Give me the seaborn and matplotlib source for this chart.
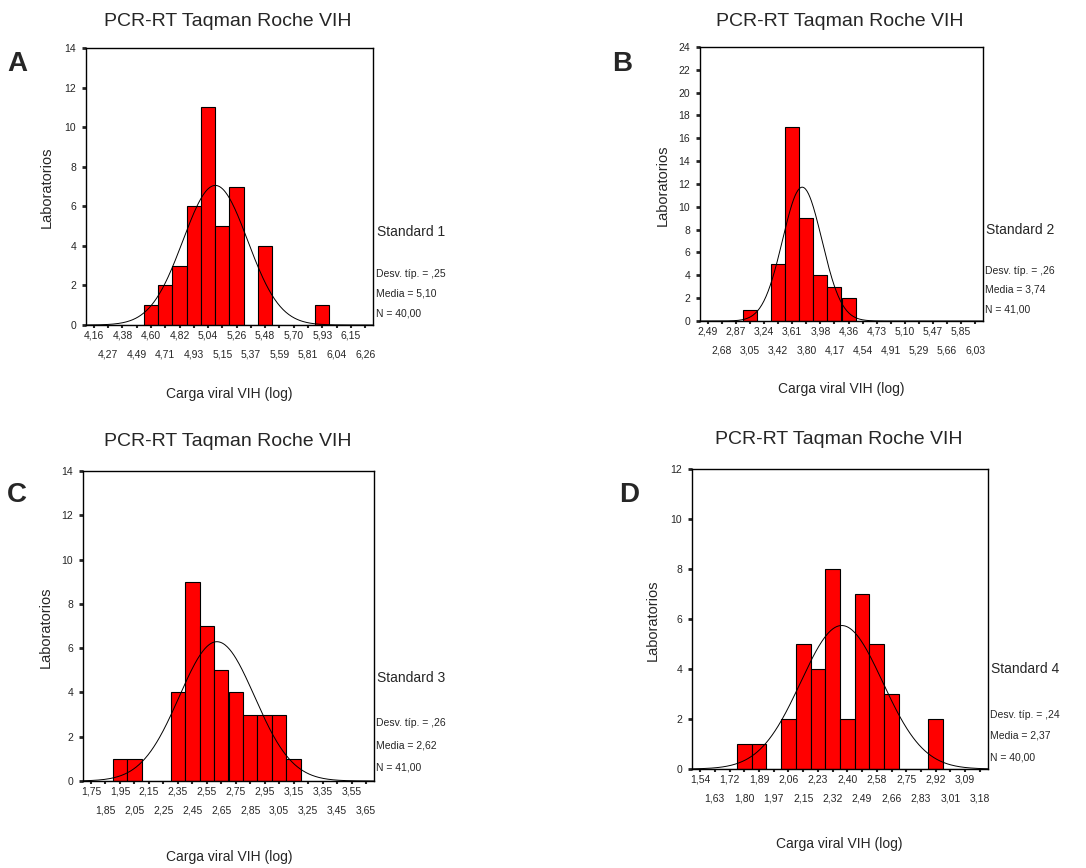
import numpy as np
import pandas as pd
import matplotlib
matplotlib.use("Agg")
import matplotlib.pyplot as plt
import seaborn as sns

# ------------------------------------------------------------------
# Données : centres de classe (étiquettes), effectifs
# ------------------------------------------------------------------
a_ticks = ["4,16", "4,27", "4,38", "4,49", "4,60", "4,71", "4,82", "4,93", "5,04", "5,15",
           "5,26", "5,37", "5,48", "5,59", "5,70", "5,81", "5,93", "6,04", "6,15", "6,26"]
a_counts = [0, 0, 0, 0, 1, 2, 3, 6, 11, 5, 7, 0, 4, 0, 0, 0, 1, 0, 0, 0]

b_ticks = ["2,49", "2,68", "2,87", "3,05", "3,24", "3,42", "3,61", "3,80", "3,98", "4,17",
           "4,36", "4,54", "4,73", "4,91", "5,10", "5,29", "5,47", "5,66", "5,85", "6,03"]
b_counts = [0, 0, 0, 1, 0, 5, 17, 9, 4, 3, 2, 0, 0, 0, 0, 0, 0, 0, 0, 0]

c_ticks = ["1,75", "1,85", "1,95", "2,05", "2,15", "2,25", "2,35", "2,45", "2,55", "2,65",
           "2,75", "2,85", "2,95", "3,05", "3,15", "3,25", "3,35", "3,45", "3,55", "3,65"]
c_counts = [0, 0, 1, 1, 0, 0, 4, 9, 7, 5, 4, 3, 3, 3, 1, 0, 0, 0, 0, 0]

d_ticks = ["1,54", "1,63", "1,72", "1,80", "1,89", "1,97", "2,06", "2,15", "2,23", "2,32",
           "2,40", "2,49", "2,58", "2,66", "2,75", "2,83", "2,92", "3,01", "3,09", "3,18"]
d_counts = [0, 0, 0, 1, 1, 0, 2, 5, 4, 8, 2, 7, 5, 3, 0, 0, 2, 0, 0, 0]

panel_letters = ["A", "B", "C", "D"]
standards = ["Standard 1", "Standard 2", "Standard 3", "Standard 4"]
means = [5.10, 3.74, 2.62, 2.37]
sds = [0.25, 0.26, 0.26, 0.24]
n_labs = [40, 41, 41, 40]
y_max = [14, 24, 14, 12]
sd_texts = ["Desv. típ. = ,25", "Desv. típ. = ,26", "Desv. típ. = ,26", "Desv. típ. = ,24"]
mean_texts = ["Media = 5,10", "Media = 3,74", "Media = 2,62", "Media = 2,37"]
n_texts = ["N = 40,00", "N = 41,00", "N = 41,00", "N = 40,00"]

TITLE = "PCR-RT Taqman Roche VIH"
XLABEL = "Carga viral VIH (log)"
YLABEL = "Laboratorios"

W, H = 1086, 868

# Position des axes (pixels : gauche, haut, droite, bas) et des textes
axes_px = [(86, 48, 373, 325), (700, 47, 983, 321), (83, 471, 374, 781), (692, 469, 988, 769)]
title_px = [(228, 21), (840, 21), (228, 441), (839, 440)]
letter_px = [(17, 64), (622, 64), (17, 495), (629, 495)]
xlab_px = [(229, 394), (841, 389), (229, 857), (839, 844)]
ylab_px = [(47, 187), (663, 185), (46, 627), (653, 620)]
std_px = [(377, 232), (986, 230), (377, 678), (991, 669)]
stats_px = [(376, (274, 293, 314)), (985, (271, 290, 310)),
            (376, (723, 746, 768)), (990, (715, 735, 758))]


def fx(x):
    return x / W


def fy(y):
    return 1 - y / H


def draw_panel(fig, i, ticks, counts):
    left, top, right, bottom = axes_px[i]
    ax = fig.add_axes([fx(left), fy(bottom), (right - left) / W, (bottom - top) / H])

    first = float(ticks[0].replace(",", "."))
    last = float(ticks[-1].replace(",", "."))
    bw = (last - first) / (len(ticks) - 1)
    edges = np.linspace(first - bw / 2, last + bw / 2, len(ticks) + 1)
    centers = (edges[:-1] + edges[1:]) / 2

    df = pd.DataFrame({"x": centers, "n": counts})
    sns.histplot(data=df, x="x", weights="n", bins=list(edges), color="#ff0000", alpha=1,
                 edgecolor="black", linewidth=0.8, ax=ax)

    # Courbe normale ajustée (moyenne / écart-type affichés)
    xs = np.linspace(first - 0.55 * bw, last + 0.55 * bw, 400)
    ys = n_labs[i] * bw * np.exp(-0.5 * ((xs - means[i]) / sds[i]) ** 2) / (sds[i] * np.sqrt(2 * np.pi))
    ax.plot(xs, ys, color="black", linewidth=0.7)

    ax.set_xlim(first - 0.55 * bw, last + 0.55 * bw)
    ax.set_ylim(0, y_max[i])
    ax.set_yticks(np.arange(0, y_max[i] + 1, 2))
    ax.set_xticks(centers[0::2])
    ax.set_xticklabels(ticks[0::2])
    ax.set_xticks(centers[1::2], minor=True)
    ax.set_xticklabels(ticks[1::2], minor=True)
    ax.tick_params(axis="x", which="major", length=2, width=1.5, pad=2.3, labelsize=7.5)
    ax.tick_params(axis="x", which="minor", length=2, width=1.5, pad=15.3, labelsize=7.5)
    ax.tick_params(axis="y", length=3, width=2, pad=4, labelsize=7.5)
    ax.set_xlabel("")
    ax.set_ylabel("")
    for sp in ax.spines.values():
        sp.set_visible(True)
        sp.set_linewidth(1)
        sp.set_color("black")

    fig.text(fx(title_px[i][0]), fy(title_px[i][1]), TITLE, ha="center", va="center", fontsize=14)
    fig.text(fx(letter_px[i][0]), fy(letter_px[i][1]), panel_letters[i], ha="center", va="center",
             fontsize=20, fontweight="bold")
    fig.text(fx(xlab_px[i][0]), fy(xlab_px[i][1]), XLABEL, ha="center", va="center", fontsize=10)
    fig.text(fx(ylab_px[i][0]), fy(ylab_px[i][1]), YLABEL, ha="center", va="center", fontsize=10.5,
             rotation=90)
    fig.text(fx(std_px[i][0]), fy(std_px[i][1]), standards[i], ha="left", va="center", fontsize=10)
    sx, sy = stats_px[i]
    for txt, yy in zip([sd_texts[i], mean_texts[i], n_texts[i]], sy):
        fig.text(fx(sx), fy(yy), txt, ha="left", va="center", fontsize=7.5)


def main():
    sns.set_style("ticks")
    plt.rcParams["font.family"] = ["Liberation Sans", "DejaVu Sans"]

    fig = plt.figure(figsize=(W / 100, H / 100), dpi=100)
    for i, (t, c) in enumerate([(a_ticks, a_counts), (b_ticks, b_counts),
                                (c_ticks, c_counts), (d_ticks, d_counts)]):
        draw_panel(fig, i, t, c)

    fig.savefig("out.png", dpi=100, facecolor="white")
    plt.close(fig)


if __name__ == "__main__":
    main()
